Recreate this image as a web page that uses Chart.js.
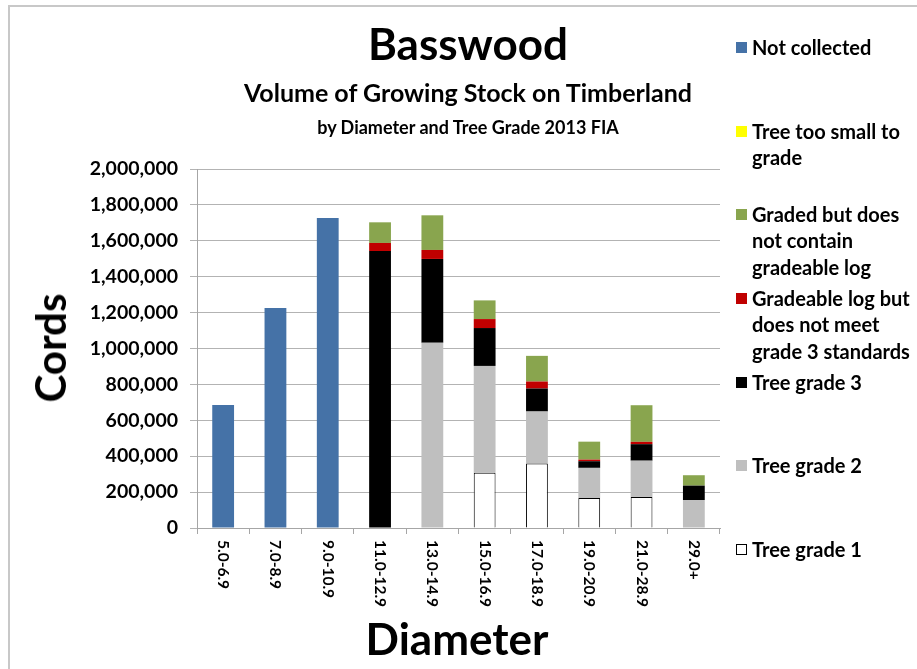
<!DOCTYPE html>
<html>
<head>
<meta charset="utf-8">
<script src="https://cdn.jsdelivr.net/npm/chart.js@4/dist/chart.umd.min.js"></script>
<style>
  html, body { margin: 0; padding: 0; background: #fff; }
  #wrap { position: relative; width: 917px; height: 669px; overflow: hidden; font-family: Lato, "Open Sans", sans-serif; font-weight: bold; color: #000; }
  #frame { position: absolute; left: 8px; top: 5px; width: 920px; height: 700px; border-left: 2px solid #c8c8c8; border-top: 2px solid #c8c8c8; }
  #chart { position: absolute; left: 0; top: 0; }
  .t { position: absolute; left: 0; width: 936px; text-align: center; white-space: nowrap; line-height: 1.2; }
  .leg { position: absolute; left: 752px; line-height: 26.5px; font-size: 20px; white-space: nowrap; }
  .sw { position: absolute; left: 736px; width: 11px; height: 11px; box-sizing: border-box; }
  .axt { position: absolute; font-size: 44px; white-space: nowrap; }
</style>
</head>
<body>
<div id="wrap">
  <div id="frame"></div>
  <canvas id="chart" width="917" height="669"></canvas>
  <div class="t" style="top:17px;font-size:44px;">Basswood</div>
  <div class="t" style="top:77px;font-size:25px;">Volume of Growing Stock on Timberland</div>
  <div class="t" style="top:117px;font-size:18px;">by Diameter and Tree Grade 2013 FIA</div>
  <div class="axt" id="ytitle" style="left:50px;top:348px;transform:translate(-50%,-50%) rotate(-90deg);font-size:42px;">Cords</div>
  <div class="axt" id="xtitle" style="left:457px;top:638px;transform:translate(-50%,-50%);">Diameter</div>
  <div id="legend"></div>
</div>
<script>
// 分类（直径级）
const categories = ['5.0-6.9', '7.0-8.9', '9.0-10.9', '11.0-12.9', '13.0-14.9', '15.0-16.9', '17.0-18.9', '19.0-20.9', '21.0-28.9', '29.0+'];

// 各系列数值（从图上读取，单位 cords）
const treeGrade1 = [0, 0, 0, 0, 0, 308000, 359000, 167000, 173000, 0];
const treeGrade2 = [0, 0, 0, 0, 1032000, 595000, 290000, 168000, 202000, 156000];
const treeGrade3 = [0, 0, 0, 1543000, 467000, 211000, 128000, 37000, 92000, 80000];
const gradeableNotMeet = [0, 0, 0, 45000, 50000, 50000, 39000, 9000, 13000, 0];
const gradedNoLog = [0, 0, 0, 115000, 193000, 104000, 143000, 100000, 204000, 58000];
const tooSmall = [0, 0, 0, 0, 0, 0, 0, 0, 0, 0];
const notCollected = [685000, 1225000, 1727000, 0, 0, 0, 0, 0, 0, 0];

// 纵轴刻度
const yTicks = [0, 200000, 400000, 600000, 800000, 1000000, 1200000, 1400000, 1600000, 1800000, 2000000];

const FONT = 'Lato, "Open Sans", sans-serif';

const datasets = [
  { label: 'Tree grade 1', data: treeGrade1, backgroundColor: '#ffffff', borderColor: '#000000', borderWidth: 1 },
  { label: 'Tree grade 2', data: treeGrade2, backgroundColor: '#bfbfbf' },
  { label: 'Tree grade 3', data: treeGrade3, backgroundColor: '#000000' },
  { label: 'Gradeable log but does not meet grade 3 standards', data: gradeableNotMeet, backgroundColor: '#c00000' },
  { label: 'Graded but does not contain gradeable log', data: gradedNoLog, backgroundColor: '#89a54e' },
  { label: 'Tree too small to grade', data: tooSmall, backgroundColor: '#ffff00' },
  { label: 'Not collected', data: notCollected, backgroundColor: '#4572a7' }
];

// 图例：行的换行与位置
const legendLines = [
  ['Not collected'],
  ['Tree too small to', 'grade'],
  ['Graded but does', 'not contain', 'gradeable log'],
  ['Gradeable log but', 'does not meet', 'grade 3 standards'],
  ['Tree grade 3'],
  ['Tree grade 2'],
  ['Tree grade 1']
];
const legendCenters = [47, 131, 214, 298, 382, 465, 549];

const legendEl = document.getElementById('legend');
datasets.slice().reverse().forEach((ds, i) => {
  const top = legendCenters[i] - 13.25;
  const txt = document.createElement('div');
  txt.className = 'leg';
  txt.style.top = top + 'px';
  txt.innerHTML = legendLines[i].join('<br>');
  legendEl.appendChild(txt);
  const sw = document.createElement('div');
  sw.className = 'sw';
  sw.style.top = (legendCenters[i] - 5.5) + 'px';
  sw.style.background = ds.backgroundColor;
  if (ds.borderWidth) sw.style.border = '1px solid #000';
  legendEl.appendChild(sw);
});

// 横轴标签：顺时针旋转 90 度
const xLabelPlugin = {
  id: 'xLabels',
  afterDraw(chart) {
    const ctx = chart.ctx;
    const xs = chart.scales.x;
    ctx.save();
    ctx.font = 'bold 15.5px ' + FONT;
    ctx.fillStyle = '#000';
    ctx.textAlign = 'left';
    ctx.textBaseline = 'middle';
    chart.data.labels.forEach((lab, i) => {
      const x = xs.getPixelForTick(i);
      ctx.save();
      ctx.translate(x, chart.chartArea.bottom + 12);
      ctx.rotate(Math.PI / 2);
      ctx.fillText(lab, 0, 0);
      ctx.restore();
    });
    ctx.restore();
  }
};

new Chart(document.getElementById('chart'), {
  type: 'bar',
  data: { labels: categories, datasets: datasets },
  options: {
    responsive: false,
    animation: false,
    events: [],
    layout: { padding: { left: 0, top: 169, right: 197, bottom: 0 } },
    datasets: { bar: { categoryPercentage: 1, barPercentage: 0.417 } },
    plugins: { legend: { display: false }, tooltip: { enabled: false } },
    scales: {
      x: {
        stacked: true,
        grid: { display: true, drawOnChartArea: false, drawTicks: true, tickLength: 6, color: '#a6a6a6', offset: true },
        border: { display: true, color: '#a6a6a6' },
        ticks: { display: false },
        afterFit(scale) { scale.height = 141; }
      },
      y: {
        stacked: true,
        min: 0,
        max: 2000000,
        afterBuildTicks(scale) { scale.ticks = yTicks.map(v => ({ value: v })); },
        grid: { color: '#b3b3b3', tickLength: 7 },
        border: { display: true, color: '#a6a6a6' },
        ticks: {
          padding: 12,
          color: '#000',
          font: { family: FONT, size: 19.5, weight: 'bold' },
          callback: v => v.toLocaleString('en-US')
        },
        afterFit(scale) { scale.width = 197; }
      }
    }
  },
  plugins: [xLabelPlugin]
});
</script>
</body>
</html>
